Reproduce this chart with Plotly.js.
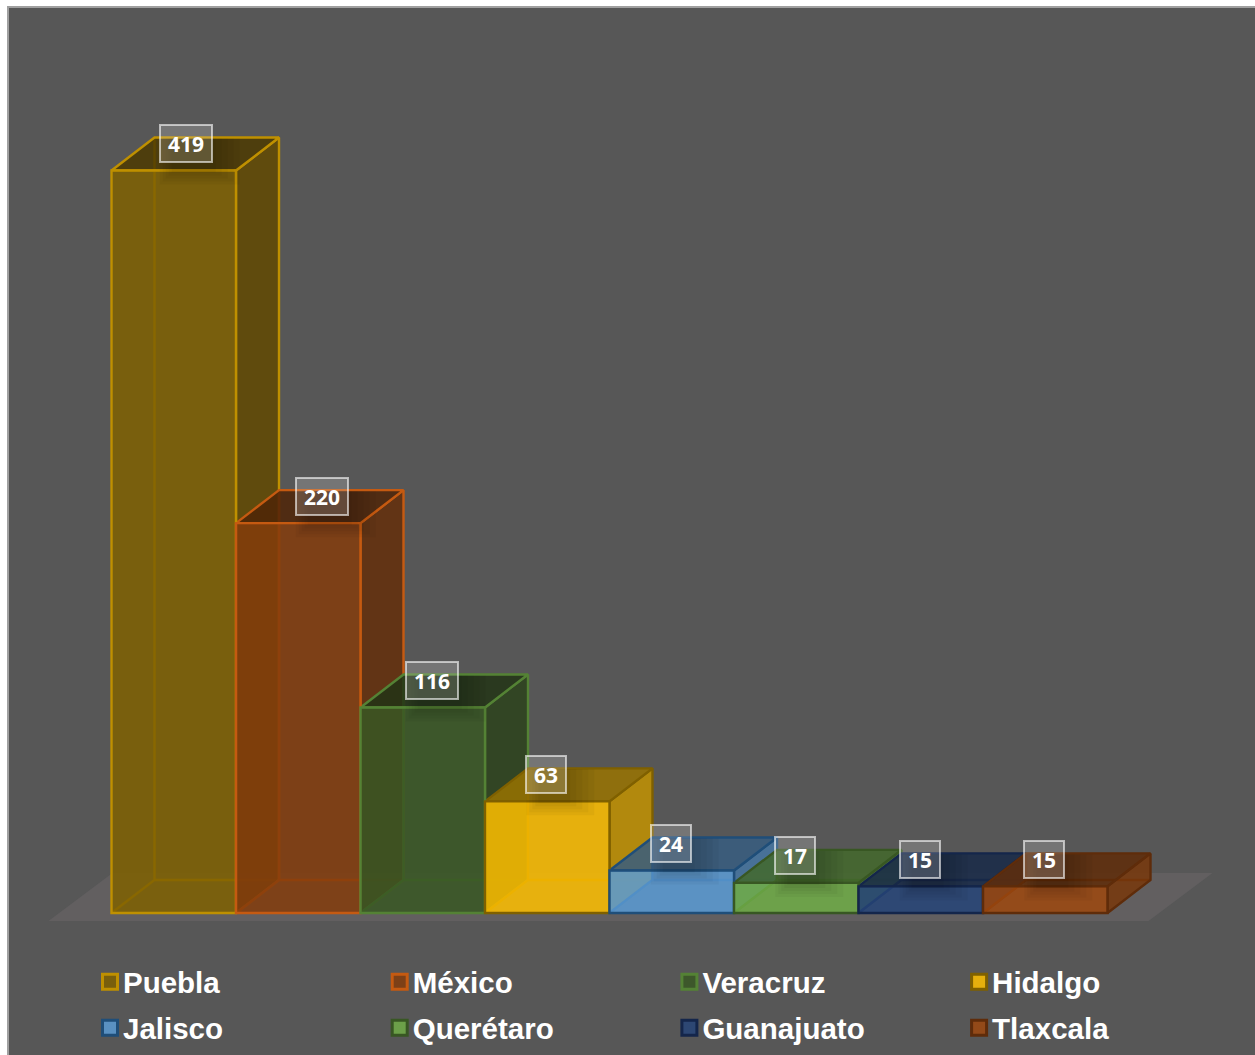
<!DOCTYPE html>
<html>
<head>
<meta charset="utf-8">
<script src="https://cdn.plot.ly/plotly-3.0.1.min.js"></script>
<style>html,body{margin:0;padding:0;background:#fff;overflow:hidden}#chart{width:1255px;height:1055px}</style>
</head>
<body>
<div id="chart"></div>
<script>
const states = ["Puebla","México","Veracruz","Hidalgo","Jalisco","Querétaro","Guanajuato","Tlaxcala"];
const values = [419,220,116,63,24,17,15,15];
const fillRGB = [[127,96,0],[132,60,12],[56,87,35],[255,192,0],[91,155,213],[112,173,71],[38,68,120],[158,72,14]];
const lineColors = ["#bf9000","#c55a11","#548235","#7f6000","#1f4e79","#385723","#14264b","#5f2c0a"];
const labelShiftX = [12,23.5,9,-1,-1,-1,-1,-1];

const barPx = 124.5, valPx = 1.772, originX = 111.5, originY = 913;
const depthX = 43 / barPx, depthY = 33 / valPx;
const rgba = (c, k, a) => `rgba(${Math.round(c[0]*k)},${Math.round(c[1]*k)},${Math.round(c[2]*k)},${a})`;
const A = 0.85, LW = 2.4;

const traces = [];
// floor
traces.push({type:'scatter',mode:'lines',fill:'toself',fillcolor:'#625f60',line:{width:0},hoverinfo:'skip',showlegend:false,
  x:[-63/barPx, 8+41/barPx, 8+41/barPx+64/barPx, -63/barPx+64/barPx, -63/barPx],
  y:[-8/valPx,-8/valPx,40/valPx,40/valPx,-8/valPx]});
values.forEach((v,i)=>{
  const c = fillRGB[i], l = lineColors[i];
  // inner back edges
  traces.push({type:'scatter',mode:'lines',line:{color:l,width:LW},hoverinfo:'skip',showlegend:false,
    x:[i,i+depthX,i+depthX,null,i+depthX,i+1+depthX],
    y:[0,depthY,v+depthY,null,depthY,depthY]});
  // right side
  traces.push({type:'scatter',mode:'lines',fill:'toself',fillcolor:rgba(c,0.76,A),line:{color:l,width:LW},hoverinfo:'skip',showlegend:false,
    x:[i+1,i+1+depthX,i+1+depthX,i+1,i+1],
    y:[v,v+depthY,depthY,0,v]});
  // top
  traces.push({type:'scatter',mode:'lines',fill:'toself',fillcolor:rgba(c,0.6,A),line:{color:l,width:LW},hoverinfo:'skip',showlegend:false,
    x:[i,i+1,i+1+depthX,i+depthX,i],
    y:[v,v,v+depthY,v+depthY,v]});
});
// front faces
traces.push({type:'bar',xaxis:'x2',yaxis:'y2',x:values.map((v,i)=>i+0.5),y:values,width:1,hoverinfo:'skip',showlegend:false,
  marker:{color:fillRGB.map(c=>rgba(c,1,A)),line:{color:lineColors,width:LW}}});
// legend entries: two rows of four
states.forEach((s,i)=>{
  traces.push({type:'scatter',mode:'markers',name:s,x:[null],y:[null],hoverinfo:'skip',legend:i<4?'legend':'legend2',
    marker:{symbol:'square',size:15,color:rgba(fillRGB[i],1,A),line:{color:lineColors[i],width:3}}});
});

// soft shadow the value labels cast on the bar tops
const shadowShapes = [];
values.forEach((v,i)=>{
  const cx = i+0.5+labelShiftX[i]/barPx, hw = (v>=100?26:20)/barPx;
  [0,1,2,3,4].forEach(k=>{
    shadowShapes.push({type:'rect',layer:'above',xref:'x',yref:'y',line:{width:0},fillcolor:'rgba(0,0,0,0.035)',
      x0:cx-hw+(3*k)/barPx,x1:cx+hw+(28-6*k)/barPx,
      y0:v-(14-3*k)/valPx,y1:v+(depthY-1/valPx)});
  });
});

const xr = [(9-originX)/barPx,(1255-originX)/barPx];
const yr = [(originY-1055)/valPx,(originY-8)/valPx];
const hidden = {showgrid:false,zeroline:false,showticklabels:false,ticks:''};
const legendBase = {orientation:'h',entrywidth:244.7,entrywidthmode:'pixels',itemsizing:'trace',x:(90-9)/1246,xanchor:'left',yanchor:'top',
  bgcolor:'rgba(0,0,0,0)',font:{family:'"Liberation Sans",Arial,sans-serif',size:29.5,weight:700,color:'#ffffff'},itemclick:false,itemdoubleclick:false};

const layout = {
  width:1255,height:1055,margin:{l:9,r:0,t:8,b:0,pad:0},
  paper_bgcolor:'#ffffff',plot_bgcolor:'#575757',showlegend:true,barmode:'overlay',
  xaxis:Object.assign({range:xr,side:'top',showline:true,linecolor:'#a0a0a0',linewidth:2},hidden),
  yaxis:Object.assign({range:yr,showline:true,linecolor:'#a0a0a0',linewidth:2},hidden),
  xaxis2:Object.assign({range:xr,overlaying:'x',visible:false},hidden),
  yaxis2:Object.assign({range:yr,overlaying:'y',visible:false},hidden),
  legend:Object.assign({y:(1055-956)/1047},legendBase),
  legend2:Object.assign({y:(1055-1002)/1047},legendBase),
  shapes:shadowShapes,
  annotations:values.map((v,i)=>({
    x:i+0.5,y:v,xref:'x',yref:'y',text:String(v),showarrow:false,xanchor:'center',yanchor:'middle',
    xshift:labelShiftX[i],yshift:27,width:v>=100?50:38,height:35,borderpad:0,borderwidth:2,
    bordercolor:'rgba(255,255,255,0.6)',bgcolor:'rgba(255,255,255,0.18)',
    font:{family:'"Open Sans",sans-serif',size:21,weight:700,color:'#ffffff'}
  }))
};
Plotly.newPlot('chart',traces,layout,{displayModeBar:false}).then(()=>{
  document.querySelectorAll('.legendtext, .legend2text').forEach(t=>{ t.setAttribute('x','33'); });
});
</script>
</body>
</html>
